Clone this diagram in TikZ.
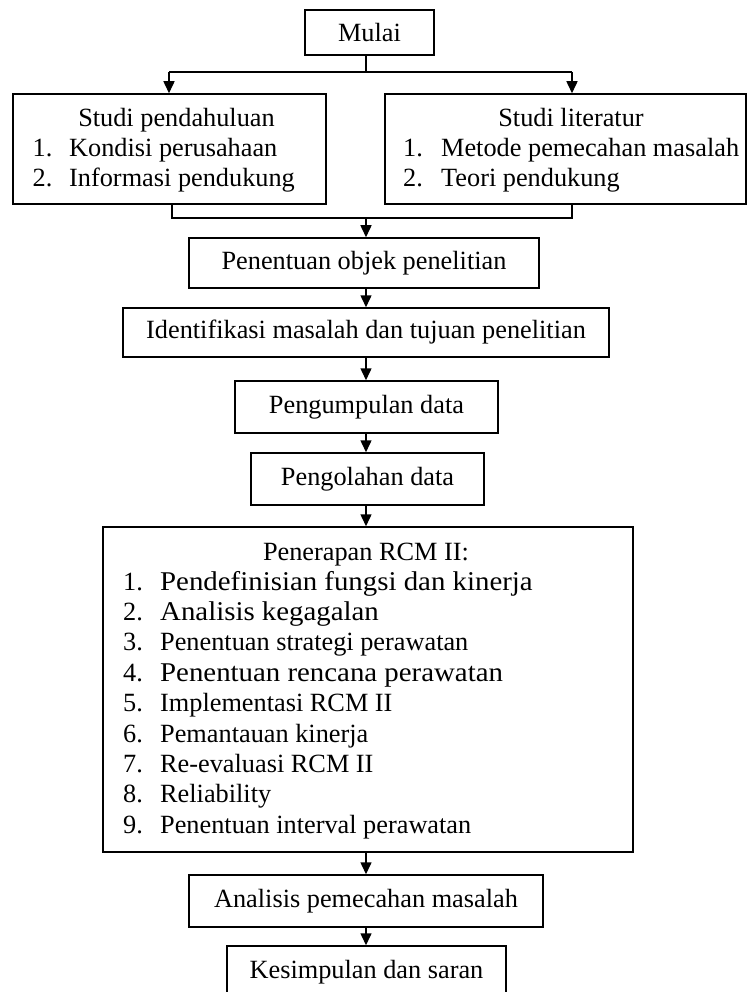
\documentclass[tikz,border=0pt]{standalone}
\usepackage{fontspec}
\usepackage{graphicx}
\setmainfont{Liberation Serif}
\usetikzlibrary{arrows.meta}
\newcommand{\widetxt}[1]{\scalebox{1.097}[1.03]{#1}}
\begin{document}
\begin{tikzpicture}[x=1pt,y=-1pt,
  box/.style={draw, line width=1.5pt, rectangle, inner sep=0pt},
  txt/.style={inner sep=0pt, font=\fontsize{26.3}{30}\selectfont},
  ln/.style={line width=1.5pt},
  arr/.style={line width=1.5pt, -{Triangle[width=11pt,length=12pt]}}]
\useasboundingbox (0,0) rectangle (748,992);
\coordinate (ax) at (366,0);
% boxes
\node[box, txt, minimum width=129pt, minimum height=45pt] (mulai) at (369.5,32.5) {Mulai};
\node[box, minimum width=313pt, minimum height=110pt] (sp) at (169.5,149) {};
\node[txt, anchor=base] (spt) at (176.5,127) {Studi pendahuluan};
\node[txt, anchor=base west] (spl) at (32.5,157) {\begin{tabular}[t]{@{}p{36.5pt}@{}l@{}}1.&Kondisi perusahaan\\2.&Informasi pendukung\end{tabular}};
\node[box, minimum width=361pt, minimum height=110pt] (sl) at (565.5,149) {};
\node[txt, anchor=base] (slt) at (571,127) {Studi literatur};
\node[txt, anchor=base west] (sll) at (403,157) {\begin{tabular}[t]{@{}p{38pt}@{}l@{}}1.&Metode pemecahan masalah\\2.&Teori pendukung\end{tabular}};
\node[box, txt, minimum width=350pt, minimum height=50pt] (pen) at (364,263) {Penentuan objek penelitian};
\node[box, txt, minimum width=486pt, minimum height=49pt] (idf) at (366,332.5) {Identifikasi masalah dan tujuan penelitian};
\node[box, txt, minimum width=263pt, minimum height=52pt] (pgm) at (366.5,407) {Pengumpulan data};
\node[box, txt, minimum width=233pt, minimum height=52pt] (pgl) at (367.5,479) {Pengolahan data};
\node[box, minimum width=530pt, minimum height=325pt] (rcm) at (368,689.5) {};
\node[txt, anchor=base] (rcmt) at (366,560) {Penerapan RCM II:};
\node[txt, anchor=base west, font=\fontsize{26.3}{30.4}\selectfont] (rcml) at (123,590) {\begin{tabular}[t]{@{}p{37pt}@{}l@{}}
1.&\widetxt{Pendefinisian fungsi dan kinerja}\\
2.&\widetxt{Analisis kegagalan}\\
3.&Penentuan strategi perawatan\\
4.&\widetxt{Penentuan rencana perawatan}\\
5.&Implementasi RCM II\\
6.&Pemantauan kinerja\\
7.&Re-evaluasi RCM II\\
8.&Reliability\\
9.&Penentuan interval perawatan
\end{tabular}};
\node[box, txt, minimum width=354pt, minimum height=52pt] (ana) at (366,901) {Analisis pemecahan masalah};
\node[box, txt, minimum width=279pt, minimum height=52pt] (kes) at (366.5,972) {Kesimpulan dan saran};
% split from Mulai
\coordinate (jl) at (169,72);
\coordinate (jr) at (572,72);
\draw[ln] (mulai.south -| ax) -- (ax |- jl);
\draw[ln] (jl) -- (jr);
\draw[arr] (jl) -- (jl |- sp.north);
\draw[arr] (jr) -- (jr |- sl.north);
% merge
\coordinate (ml) at (172,218);
\coordinate (mr) at (572,218);
\draw[ln] (ml |- sp.south) -- (ml) -- (mr) -- (mr |- sl.south);
\draw[arr] (ax |- ml) -- (ax |- pen.north);
% chain
\draw[arr] (pen.south -| ax) -- (idf.north -| ax);
\draw[arr] (idf.south -| ax) -- (pgm.north -| ax);
\draw[arr] (pgm.south -| ax) -- (pgl.north -| ax);
\draw[arr] (pgl.south -| ax) -- (rcm.north -| ax);
\draw[arr] (rcm.south -| ax) -- (ana.north -| ax);
\draw[arr] (ana.south -| ax) -- (kes.north -| ax);
\end{tikzpicture}
\end{document}
